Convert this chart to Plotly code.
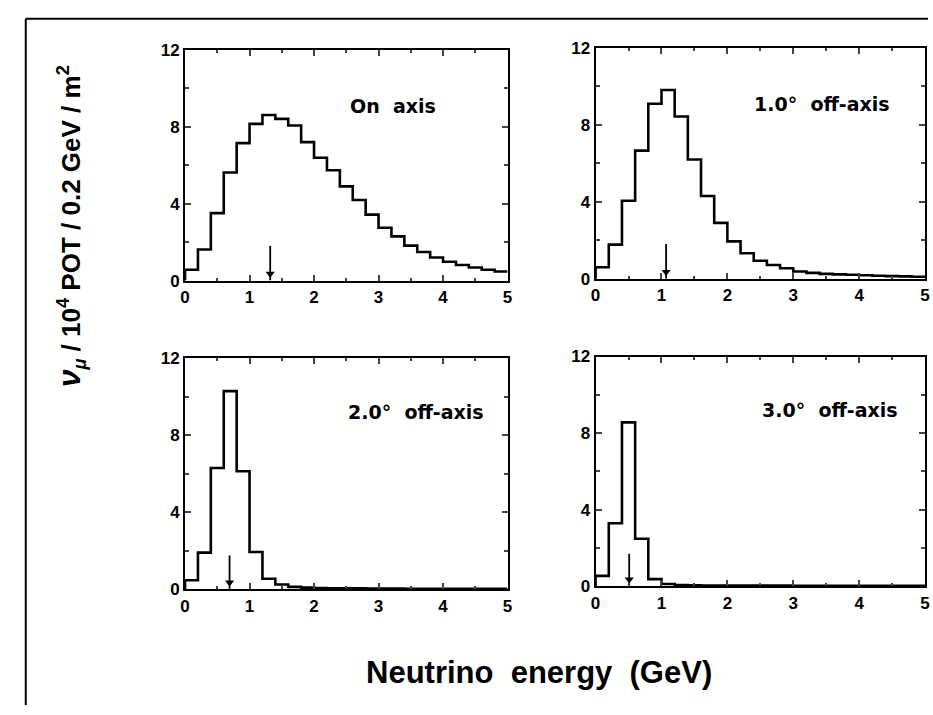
import plotly.graph_objects as go

# ---- data (0.2 GeV bins from 0 to 5 GeV) ----
bin_edges = [round(0.2 * i, 1) for i in range(26)]

on_axis = [0.56, 1.62, 3.51, 5.62, 7.15, 8.15, 8.61, 8.41, 8.07, 7.2,
           6.39, 5.74, 4.9, 4.19, 3.43, 2.75, 2.3, 1.82, 1.49, 1.2,
           0.98, 0.81, 0.68, 0.56, 0.47]
off_1deg = [0.59, 1.77, 4.05, 6.66, 9.1, 9.81, 8.43, 6.2, 4.3, 2.9,
            1.94, 1.32, 0.93, 0.71, 0.54, 0.37, 0.3, 0.25, 0.22, 0.2,
            0.18, 0.15, 0.13, 0.12, 0.1]
off_2deg = [0.46, 1.9, 6.3, 10.3, 6.13, 1.93, 0.54, 0.24, 0.12, 0.08,
            0.06, 0.05, 0.04, 0.04, 0.03, 0.03, 0.03, 0.02, 0.02, 0.02,
            0.02, 0.02, 0.02, 0.02, 0.02]
off_3deg = [0.54, 3.29, 8.56, 2.48, 0.37, 0.12, 0.06, 0.05, 0.04, 0.04,
            0.03, 0.03, 0.03, 0.03, 0.03, 0.02, 0.02, 0.02, 0.02, 0.02,
            0.02, 0.02, 0.02, 0.02, 0.02]

series = [on_axis, off_1deg, off_2deg, off_3deg]
labels = ["On  axis", "1.0°  off-axis", "2.0°  off-axis", "3.0°  off-axis"]
peak_marks = [1.32, 1.07, 0.69, 0.51]
mark_height = [1.8, 1.8, 1.75, 1.7]
label_pos = [(2.52, 9.1), (2.37, 9.1), (2.49, 9.2), (2.49, 9.2)]

x_ticks = [0, 1, 2, 3, 4, 5]
y_ticks = [0, 4, 8, 12]

W, H = 933, 715
# panel pixel boxes (left, right, top, bottom)
boxes = [(182, 508, 42, 279), (597, 930, 40, 277),
         (182, 508, 359, 596), (597, 930, 357, 593)]

fig = go.Figure()
layout = dict(width=W, height=H, margin=dict(l=0, r=0, t=0, b=0),
              paper_bgcolor="white", plot_bgcolor="white", showlegend=False)

tickfont = dict(family="Liberation Sans", size=17, color="black", weight="bold")

annotations = []
for i, vals in enumerate(series):
    n = i + 1
    xa = "x" if n == 1 else f"x{n}"
    ya = "y" if n == 1 else f"y{n}"
    xs = list(bin_edges[:-1]) + [bin_edges[-1]]
    ys = list(vals) + [vals[-1]]
    fig.add_trace(go.Scatter(x=[0] + xs, y=[0] + ys, mode="lines",
                             line=dict(color="black", width=2.6, shape="hv"),
                             xaxis=xa, yaxis=ya, hoverinfo="skip"))
    # peak-energy marker: thin vertical line with a small down-pointing head
    pm = peak_marks[i]
    fig.add_trace(go.Scatter(x=[pm, pm], y=[0, mark_height[i]], mode="lines",
                             line=dict(color="black", width=1.8),
                             xaxis=xa, yaxis=ya, hoverinfo="skip"))
    fig.add_trace(go.Scatter(x=[pm], y=[0.35], mode="markers",
                             marker=dict(symbol="triangle-down", size=8,
                                         color="black"),
                             xaxis=xa, yaxis=ya, hoverinfo="skip"))
    l, r, t, b = boxes[i]
    xkey = "xaxis" if n == 1 else f"xaxis{n}"
    ykey = "yaxis" if n == 1 else f"yaxis{n}"
    layout[xkey] = dict(domain=[l / W, r / W], range=[0, 5], anchor=ya,
                        tickvals=x_ticks, ticks="inside", ticklen=6, tickwidth=2,
                        mirror="allticks", showline=True, linecolor="black",
                        linewidth=2, showgrid=False, zeroline=False,
                        tickfont=tickfont,
                        minor=dict(tickvals=[0.5, 1.5, 2.5, 3.5, 4.5],
                                   ticks="inside", ticklen=3, tickwidth=1.5))
    layout[ykey] = dict(domain=[1 - b / H, 1 - t / H], range=[0, 12], anchor=xa,
                        tickvals=y_ticks, ticks="inside", ticklen=6, tickwidth=2,
                        mirror="allticks", showline=True, linecolor="black",
                        linewidth=2, showgrid=False, zeroline=False,
                        tickfont=tickfont,
                        minor=dict(tickvals=[2, 6, 10], ticks="inside",
                                   ticklen=4, tickwidth=1.5))
    lx, ly = label_pos[i]
    annotations.append(dict(x=lx, y=ly, xref=xa, yref=ya, text=labels[i],
                            showarrow=False, xanchor="left", yanchor="middle",
                            font=dict(family="DejaVu Sans", size=19,
                                      color="black", weight="bold")))

annotations.append(dict(x=66 / W, y=1 - 223 / H, xref="paper", yref="paper",
                        xanchor="center", yanchor="middle",
                        text="<i><span style='font-size:32px'>ν</span><sub>μ</sub></i> / 10<sup>4</sup> POT / 0.2 GeV / m<sup>2</sup>",
                        textangle=-90, showarrow=False,
                        font=dict(family="Liberation Sans", size=26,
                                  color="black", weight="bold")))
annotations.append(dict(x=540 / W, y=1 - 682 / H, xref="paper", yref="paper",
                        xanchor="center", yanchor="middle",
                        text="Neutrino  energy  (GeV)", showarrow=False,
                        font=dict(family="Liberation Sans", size=31,
                                  color="black", weight="bold")))

layout["annotations"] = annotations
layout["shapes"] = [
    dict(type="line", xref="paper", yref="paper", x0=21 / W, x1=21 / W,
         y0=0, y1=1 - 10 / H, line=dict(color="black", width=2)),
    dict(type="line", xref="paper", yref="paper", x0=21 / W, x1=1,
         y0=1 - 10 / H, y1=1 - 10 / H, line=dict(color="black", width=2)),
]

fig.update_layout(**layout)
fig.write_html("out.html")
